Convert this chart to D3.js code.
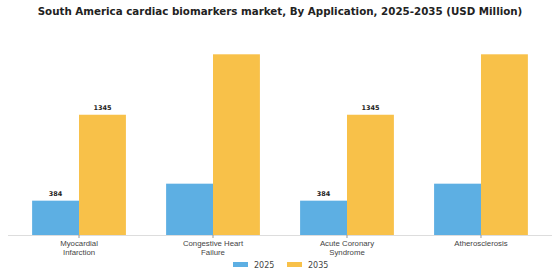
<!DOCTYPE html>
<meta charset="utf-8">
<style>
body { margin: 0; background: #fff; }
svg { font-family: "DejaVu Sans", sans-serif; }
.title { font-size: 10.3px; font-weight: bold; fill: #222; text-anchor: middle; }
.tick text { font-size: 7.8px; fill: #444; }
.label { font-size: 6.5px; font-weight: bold; fill: #222; text-anchor: middle; }
.legend text { font-size: 8px; fill: #444; }
</style>
<svg width="560" height="280"></svg>
<script src="https://d3js.org/d3.v7.min.js"></script>
<script>

var categories = ["Myocardial\nInfarction", "Congestive Heart\nFailure", "Acute Coronary\nSyndrome", "Atherosclerosis"];
var years = ["2025", "2035"];
var values2025 = [384, 574, 384, 574];
var values2035 = [1345, 2021, 1345, 2021];
var showLabel = [true, false, true, false];
var colors = ["#5DAFE3", "#F8C149"];

var svg = d3.select("svg");

var x = d3.scaleBand()
    .domain(categories)
    .range([8, 552])
    .paddingInner(0.3)
    .paddingOuter(0.18);

var x1 = d3.scaleBand()
    .domain(years)
    .range([0, x.bandwidth()]);

var y = d3.scaleLinear()
    .domain([0, d3.max(values2035)])
    .range([235, 54.3]);

svg.append("text")
    .attr("class", "title")
    .attr("x", 280)
    .attr("y", 15)
    .text("South America cardiac biomarkers market, By Application, 2025-2035 (USD Million)");

var rows = categories.map(function(c, i) {
  return {cat: c, vals: [values2025[i], values2035[i]], label: showLabel[i]};
});

var g = svg.selectAll(".group")
  .data(rows)
  .enter().append("g")
    .attr("class", "group")
    .attr("transform", function(d) { return "translate(" + x(d.cat) + ",0)"; });

g.selectAll("rect")
  .data(function(d) { return d.vals.map(function(v, j) { return {year: years[j], v: v, label: d.label}; }); })
  .enter().append("rect")
    .attr("x", function(d) { return x1(d.year); })
    .attr("y", function(d) { return y(d.v); })
    .attr("width", x1.bandwidth())
    .attr("height", function(d) { return y(0) - y(d.v); })
    .attr("fill", function(d, j) { return colors[j]; });

g.selectAll(".label")
  .data(function(d) { return d.label ? d.vals.map(function(v, j) { return {year: years[j], v: v}; }) : []; })
  .enter().append("text")
    .attr("class", "label")
    .attr("x", function(d) { return x1(d.year) + x1.bandwidth() / 2; })
    .attr("y", function(d) { return y(d.v) - 5; })
    .text(function(d) { return d.v; });

// x axis
var axis = svg.append("g")
    .attr("transform", "translate(0," + y(0) + ")")
    .call(d3.axisBottom(x).tickSize(3).tickSizeOuter(0));

axis.select(".domain").attr("stroke", "#ddd").attr("d", "M8,0.5H552");
axis.selectAll(".tick line").attr("stroke", "#999");
axis.selectAll(".tick text").each(function(d) {
  var t = d3.select(this), lines = d.split("\n");
  t.text(null).attr("y", 5.5);
  lines.forEach(function(l, i) {
    t.append("tspan").attr("x", 0).attr("dy", i ? "1.1em" : "0.71em").text(l);
  });
});

// legend
var legend = svg.append("g").attr("class", "legend");
var lx = [233, 287];
years.forEach(function(yr, i) {
  legend.append("rect")
      .attr("x", lx[i]).attr("y", 262)
      .attr("width", 15).attr("height", 5)
      .attr("fill", colors[i]);
  legend.append("text")
      .attr("x", lx[i] + 21).attr("y", 267.5)
      .text(yr);
});

</script>
